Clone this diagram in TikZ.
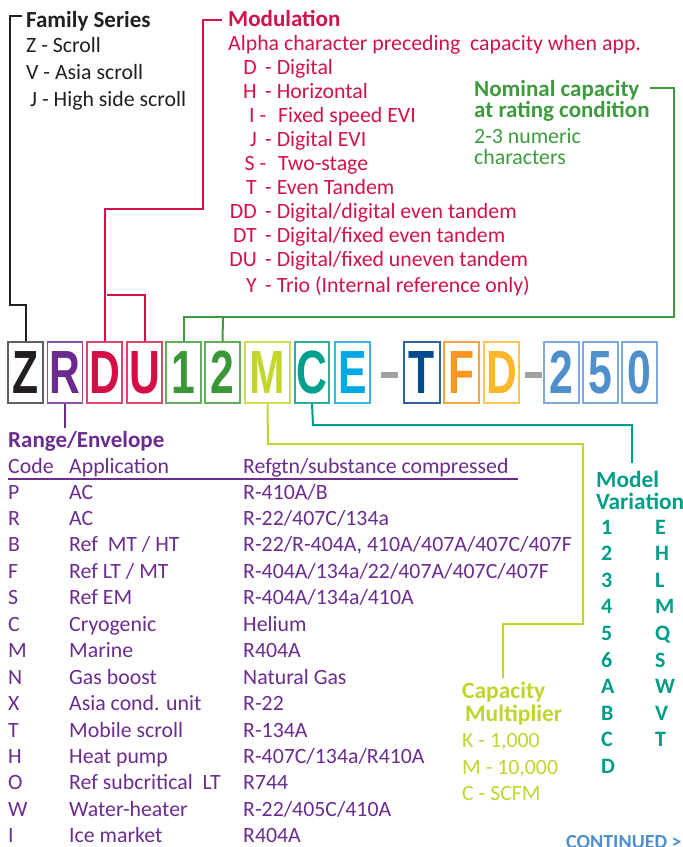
\documentclass[tikz,border=0pt]{standalone}
\usepackage{fontspec}
\usepackage{graphicx}
\setmainfont{Carlito}
\newfontfamily\boxfont{Liberation Sans}
\definecolor{famc}{HTML}{231F20}
\definecolor{modc}{HTML}{D3124A}
\definecolor{nomc}{HTML}{3D9A3D}
\definecolor{rngc}{HTML}{6B2C8F}
\definecolor{mvc}{HTML}{009D87}
\definecolor{capc}{HTML}{C1D42E}
\definecolor{contc}{HTML}{4F8FCB}
\definecolor{lZ}{HTML}{231F20}\definecolor{bZ}{HTML}{606060}
\definecolor{lR}{HTML}{6B2A8E}\definecolor{bR}{HTML}{8D50AB}
\definecolor{lD}{HTML}{D50F46}\definecolor{bD}{HTML}{E0456C}
\definecolor{lN}{HTML}{3B9637}\definecolor{bN}{HTML}{60AD5C}
\definecolor{lM}{HTML}{C4D62C}\definecolor{bM}{HTML}{CDDF50}
\definecolor{lC}{HTML}{00A08C}\definecolor{bC}{HTML}{2AB09B}
\definecolor{lE}{HTML}{00A9E4}\definecolor{bE}{HTML}{3AB7EA}
\definecolor{lT}{HTML}{004B8D}\definecolor{bT}{HTML}{2F62A0}
\definecolor{lF}{HTML}{F6961F}\definecolor{bF}{HTML}{F7A540}
\definecolor{lY}{HTML}{FCB82A}\definecolor{bY}{HTML}{FCC650}
\definecolor{lB}{HTML}{4F8FCB}\definecolor{bB}{HTML}{7BAADB}
\definecolor{dashc}{HTML}{A0A0A2}
\newcommand\txtsize{\fontsize{21.8}{24}\selectfont}
\newcommand\btxtsize{\fontsize{23}{25}\selectfont\bfseries}
\newcommand\boxlet[1]{\scalebox{0.70}[1]{\boxfont\bfseries\fontsize{61}{61}\selectfont #1}}
\tikzset{
  cbox/.style n args={2}{draw=#1, text=#2, line width=1.3pt, minimum width=35pt, minimum height=61pt, inner sep=0pt},
  dashbar/.style={fill=dashc, minimum width=17pt, minimum height=6pt, inner sep=0pt},
  txt/.style={anchor=base west, inner sep=0pt, font=\txtsize},
  btxt/.style={anchor=base west, inner sep=0pt, font=\btxtsize},
  ntxt/.style={anchor=base west, inner sep=0pt, font=\fontsize{22}{24}\selectfont\bfseries},
  conn/.style={line width=2pt},
}
\begin{document}
\begin{tikzpicture}[x=1pt,y=-1pt]
\useasboundingbox (0,0) rectangle (683,847);
% ---------- code boxes ----------
\node[cbox={bZ}{lZ}] (bxZ) at (25.5,372.5) {\boxlet{Z}};
\node[cbox={bR}{lR}] (bxR) at (65,372.5) {\boxlet{R}};
\node[cbox={bD}{lD}] (bxD) at (104.5,372.5) {\boxlet{D}};
\node[cbox={bD}{lD}] (bxU) at (144.5,372.5) {\boxlet{U}};
\node[cbox={bN}{lN}] (bx1) at (183.5,372.5) {\boxlet{1}};
\node[cbox={bN}{lN}] (bx2) at (222.5,372.5) {\boxlet{2}};
\node[cbox={bM}{lM}, minimum width=45pt] (bxM) at (267.5,372.5) {\boxlet{M}};
\node[cbox={bC}{lC}, minimum width=34pt] (bxC) at (312,372.5) {\boxlet{C}};
\node[cbox={bE}{lE}] (bxE) at (352.5,372.5) {\boxlet{E}};
\node[dashbar] (dsA) at (389.5,375) {};
\node[cbox={bT}{lT}, minimum width=36pt] (bxT) at (422,372.5) {\boxlet{T}};
\node[cbox={bF}{lF}] (bxF) at (461.5,372.5) {\boxlet{F}};
\node[cbox={bY}{lY}] (bxD2) at (501.5,372.5) {\boxlet{D}};
\node[dashbar] (dsB) at (533.5,375) {};
\node[cbox={bB}{lB}] (bx2b) at (561.5,372.5) {\boxlet{2}};
\node[cbox={bB}{lB}] (bx5) at (600.5,372.5) {\boxlet{5}};
\node[cbox={bB}{lB}] (bx0) at (639.5,372.5) {\boxlet{0}};
% ---------- Family series ----------
\begin{scope}[text=famc]
\node[btxt] (famT) at (26,27) {Family Series};
\node[txt] (famZ) at (26,52) {Z - Scroll};
\node[txt] (famV) at (26,79) {V - Asia scroll};
\node[txt] (famJ) at (30,106) {J - High side scroll};
\end{scope}
\coordinate (famA) at (22,16);
\draw[conn, famc] (famA) -- (10,16) -- (10,305) -| (bxZ.north);
% ---------- Modulation ----------
\begin{scope}[text=modc]
\node[btxt] (modT) at (228,26) {Modulation};
\node[txt] (modA) at (228,50) {Alpha character preceding\ \ capacity when app.};
\node[txt, anchor=base east] (mc1) at (257,74) {D};   \node[txt] (md1) at (265,74) {- Digital};
\node[txt, anchor=base east] (mc2) at (257,98) {H};   \node[txt] (md2) at (265,98) {- Horizontal};
\node[txt, anchor=base east] (mc3) at (266.5,122) {I -}; \node[txt] (md3) at (278,122) {Fixed speed EVI};
\node[txt, anchor=base east] (mc4) at (257,146) {J};  \node[txt] (md4) at (265,146) {- Digital EVI};
\node[txt, anchor=base east] (mc5) at (266.5,170) {S -}; \node[txt] (md5) at (278,170) {Two-stage};
\node[txt, anchor=base east] (mc6) at (257,194) {T};  \node[txt] (md6) at (265,194) {- Even Tandem};
\node[txt, anchor=base east] (mc7) at (257,218) {DD}; \node[txt] (md7) at (265,218) {- Digital/digital even tandem};
\node[txt, anchor=base east] (mc8) at (257,242) {DT}; \node[txt] (md8) at (265,242) {- Digital/fixed even tandem};
\node[txt, anchor=base east] (mc9) at (257,266) {DU}; \node[txt] (md9) at (265,266) {- Digital/fixed uneven tandem};
\node[txt, anchor=base east] (mc10) at (257,292) {Y}; \node[txt] (md10) at (265,292) {- Trio (Internal reference only)};
\end{scope}
\coordinate (modA0) at (222,20);
\coordinate (modJ) at (107,295);
\draw[conn, modc] (modA0) -- (203,20) -- (203,209) -| (bxD.north);
\draw[conn, modc] (modJ) -| (bxU.north);
% ---------- Nominal capacity ----------
\begin{scope}[text=nomc]
\node[btxt] (nomT1) at (474,96) {Nominal capacity};
\node[btxt] (nomT2) at (474,117) {at rating condition};
\node[txt] (nomA) at (474,143) {2-3 numeric};
\node[txt] (nomB) at (474,164) {characters};
\end{scope}
\coordinate (nomS) at (650,88);
\coordinate (nomJ) at (223,317);
\draw[conn, nomc] (nomS) -- (674,88) -- (674,317) -| (bx1.north);
\draw[conn, nomc] (nomJ) -- (bx2.north);
% ---------- Range / Envelope ----------
\coordinate (rngE) at (65,428);
\draw[conn, rngc] (bxR.south) -- (rngE);
\begin{scope}[text=rngc]
\node[btxt] (rngT) at (8,447) {Range/Envelope};
\node[txt] (hC) at (8,473) {Code};
\node[txt] (hA) at (69,473) {Application};
\node[txt] (hR) at (243,473) {Refgtn/substance compressed};
\foreach \c/\a/\r [count=\i from 0] in {
  P/AC/R-410A\slash B,
  R/AC/R-22\slash 407C\slash 134a,
  B/Ref\ \ MT \slash\ HT/{R-22\slash R-404A, 410A\slash 407A\slash 407C\slash 407F},
  F/Ref LT \slash\ MT/R-404A\slash 134a\slash 22\slash 407A\slash 407C\slash 407F,
  S/Ref EM/R-404A\slash 134a\slash 410A,
  C/Cryogenic/Helium,
  M/Marine/R404A,
  N/Gas boost/Natural Gas,
  X/Asia cond. unit/R-22,
  T/Mobile scroll/R-134A,
  H/Heat pump/R-407C\slash 134a\slash R410A,
  O/Ref subcritical\ \ LT/R744,
  W/Water-heater/R-22\slash 405C\slash 410A,
  I/Ice market/R404A} {
  \node[txt] (rc\i) at (8,499+\i*26.45) {\c};
  \node[txt] (ra\i) at (69,499+\i*26.45) {\a};
  \node[txt] (rr\i) at (243,499+\i*26.45) {\r};
}
\end{scope}
\coordinate (ulA) at (8,479);
\coordinate (ulB) at (518,479);
\draw[rngc, line width=1.3pt] (ulA) -- (ulB);
% ---------- Model variation ----------
\coordinate (mvE) at (632,463);
\draw[conn, mvc] (bxC.south) -- (313,425) -| (mvE);
\begin{scope}[text=mvc]
\node[btxt, font=\fontsize{23.3}{25}\selectfont\bfseries] (mvT1) at (596,487) {Model};
\node[btxt, font=\fontsize{23.3}{25}\selectfont\bfseries] (mvT2) at (596,509) {Variation};
\foreach \n [count=\i from 0] in {1,2,3,4,5,6,A,B,C,D} {
  \node[ntxt] (mvn\i) at (601,534+\i*26.6) {\n};
}
\foreach \n [count=\i from 0] in {E,H,L,M,Q,S,W,V,T} {
  \node[ntxt] (mvl\i) at (655,534+\i*26.6) {\n};
}
\end{scope}
% ---------- Capacity multiplier ----------
\coordinate (capE) at (503,678);
\draw[conn, capc] (bxM.south) -- (268,444) -- (583,444) -- (583,624) -| (capE);
\begin{scope}[text=capc]
\node[btxt, font=\fontsize{23.5}{25}\selectfont\bfseries] (capT1) at (462,698) {Capacity};
\node[btxt, font=\fontsize{23.5}{25}\selectfont\bfseries] (capT2) at (465,721) {Multiplier};
\node[txt] (cap1) at (462,747) {K - 1,000};
\node[txt] (cap2) at (462,774) {M - 10,000};
\node[txt] (cap3) at (462,800) {C - SCFM};
\end{scope}
% ---------- continued ----------
\node[anchor=base west, inner sep=0pt, text=contc, font=\fontsize{20}{22}\selectfont\bfseries] (cont) at (566,848.5) {CONTINUED >};
\end{tikzpicture}
\end{document}
